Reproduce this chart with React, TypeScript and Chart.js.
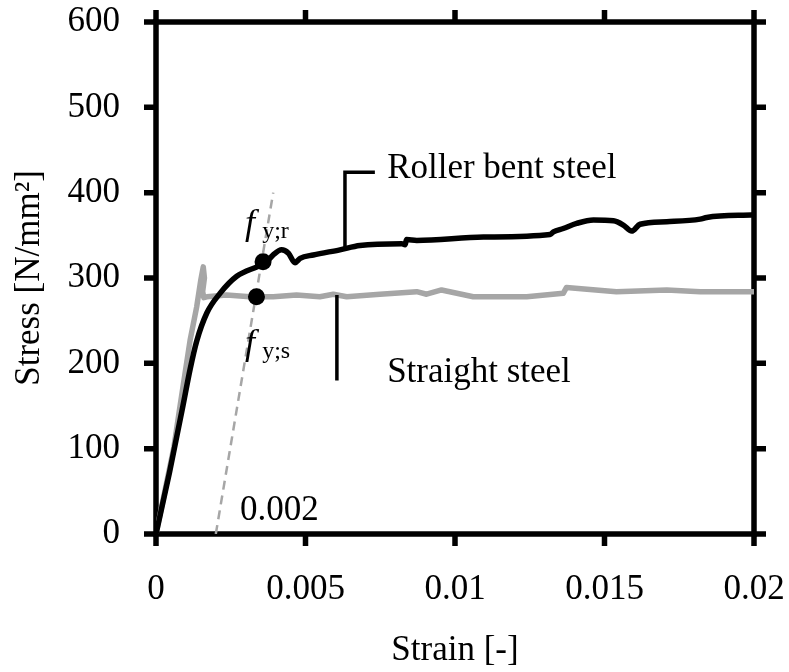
import React, { useEffect, useRef } from "react";
import { Chart, registerables } from "chart.js";

Chart.register(...registerables);

// ---- data ----
const rollerStrain = [0, 0.00045, 0.0009, 0.00114, 0.00136, 0.0017, 0.00214, 0.0027, 0.00337, 0.00365, 0.00392, 0.0042, 0.00443, 0.00465, 0.00482, 0.00526, 0.00615, 0.00682, 0.00822, 0.00833, 0.00838, 0.00872, 0.01095, 0.01318, 0.01329, 0.01362, 0.01407, 0.01463, 0.0153, 0.01563, 0.01591, 0.01619, 0.01708, 0.0182, 0.01842, 0.02];
const rollerStress = [0, 72, 150, 193, 226, 259, 282, 302, 313, 317, 327, 333, 329, 318, 323, 327, 333, 338, 340, 339, 345, 344, 348, 351, 354, 358, 364, 368, 367, 362, 355, 363, 366, 369, 371, 374];

const straightStrain = [0, 0.0006, 0.0008, 0.00114, 0.00136, 0.0015, 0.00158, 0.00162, 0.00156, 0.0016, 0.0017, 0.00236, 0.00314, 0.00392, 0.0047, 0.00548, 0.00593, 0.00638, 0.00749, 0.00872, 0.00905, 0.00955, 0.01061, 0.0124, 0.01362, 0.01373, 0.0154, 0.01708, 0.0182, 0.02];
const straightStress = [0, 102, 149, 227, 266, 298, 313, 300, 284, 277, 278, 280, 278, 278, 280, 278, 281, 278, 281, 284, 281, 286, 278, 278, 282, 289, 284, 286, 284, 284];

// 0.2% offset line
const offsetStrain = [0.002, 0.00392];
const offsetStress = [0, 400];

// yield points
const yieldStrain = [0.00358, 0.00336];
const yieldStress = [319, 278];

// leader lines of the labels
const rollerLeaderStrain = [0.00732, 0.00632, 0.00632];
const rollerLeaderStress = [424, 424, 336];
const straightLeaderStrain = [0.00605, 0.00605];
const straightLeaderStress = [280, 180];

const xTickValues = [0, 0.005, 0.01, 0.015, 0.02];
const xTickLabels = ["0", "0.005", "0.01", "0.015", "0.02"];
const yTickValues = [0, 100, 200, 300, 400, 500, 600];
const yTickLabels = ["0", "100", "200", "300", "400", "500", "600"];

// text annotations (anchor in data units)
const textLabels = [
  { text: "Roller bent steel", x: 0.00773, y: 428, size: 35, italic: false, baseline: "middle" },
  { text: "Straight steel", x: 0.00773, y: 189, size: 35, italic: false, baseline: "middle" },
  { text: "0.002", x: 0.00281, y: 27, size: 35, italic: false, baseline: "middle" },
  { text: "f", x: 0.00298, y: 352, size: 36, italic: true, baseline: "alphabetic" },
  { text: "y;r", x: 0.00355, y: 347, size: 24, italic: false, baseline: "alphabetic" },
  { text: "f", x: 0.00298, y: 211, size: 36, italic: true, baseline: "alphabetic" },
  { text: "y;s", x: 0.00355, y: 206, size: 24, italic: false, baseline: "alphabetic" },
];

const FAMILY = "'Liberation Serif', 'Times New Roman', serif";
const BLACK = "#000000";
const GREY = "#a6a6a6";

const pts = (xs: number[], ys: number[]) => xs.map((x, i) => ({ x, y: ys[i] }));

const zeroPad = (s: any) => {
  s.paddingLeft = 0;
  s.paddingRight = 0;
  s.paddingTop = 0;
  s.paddingBottom = 0;
};

const framePlugin = {
  id: "frame",
  beforeDatasetsDraw(chart: any) {
    const { ctx, chartArea } = chart;
    const { left, right, top, bottom } = chartArea;
    const xs = chart.scales.x;
    const ys = chart.scales.y;
    const tl = 12;
    ctx.save();
    ctx.strokeStyle = BLACK;
    ctx.lineWidth = 5.5;
    ctx.lineCap = "butt";
    ctx.beginPath();
    for (const v of yTickValues) {
      const p = ys.getPixelForValue(v);
      ctx.moveTo(left - tl, p);
      ctx.lineTo(left, p);
      ctx.moveTo(right, p);
      ctx.lineTo(right + tl, p);
    }
    for (const v of xTickValues) {
      const p = xs.getPixelForValue(v);
      ctx.moveTo(p, bottom);
      ctx.lineTo(p, bottom + tl);
      ctx.moveTo(p, top - tl);
      ctx.lineTo(p, top);
    }
    ctx.stroke();
    ctx.lineJoin = "miter";
    ctx.strokeRect(left, top, right - left, bottom - top);
    ctx.restore();
  },
};

const textPlugin = {
  id: "texts",
  afterDatasetsDraw(chart: any) {
    const { ctx } = chart;
    const xs = chart.scales.x;
    const ys = chart.scales.y;
    ctx.save();
    ctx.fillStyle = BLACK;
    ctx.textAlign = "left";
    for (const t of textLabels) {
      ctx.font = `${t.italic ? "italic " : ""}${t.size}px ${FAMILY}`;
      ctx.textBaseline = t.baseline;
      ctx.fillText(t.text, xs.getPixelForValue(t.x), ys.getPixelForValue(t.y));
    }
    ctx.restore();
  },
};

export default function App() {
  const ref = useRef<HTMLCanvasElement | null>(null);

  useEffect(() => {
    if (!ref.current) return;
    const font = { family: FAMILY, size: 35 };
    const chart = new Chart(ref.current, {
      type: "scatter",
      data: {
        datasets: [
          {
            data: pts(yieldStrain, yieldStress),
            showLine: false,
            pointRadius: 8.5,
            pointBackgroundColor: BLACK,
            pointBorderColor: BLACK,
            pointBorderWidth: 0,
            order: 0,
          },
          {
            data: pts(rollerStrain, rollerStress),
            showLine: true,
            borderColor: BLACK,
            borderWidth: 5.5,
            pointRadius: 0,
            cubicInterpolationMode: "monotone",
            order: 1,
          },
          {
            data: pts(rollerLeaderStrain, rollerLeaderStress),
            showLine: true,
            borderColor: BLACK,
            borderWidth: 3.5,
            pointRadius: 0,
            order: 2,
          },
          {
            data: pts(straightLeaderStrain, straightLeaderStress),
            showLine: true,
            borderColor: BLACK,
            borderWidth: 3.5,
            pointRadius: 0,
            order: 2,
          },
          {
            data: pts(straightStrain, straightStress),
            showLine: true,
            borderColor: GREY,
            borderWidth: 5.5,
            pointRadius: 0,
            borderJoinStyle: "round",
            order: 3,
          },
          {
            data: pts(offsetStrain, offsetStress),
            showLine: true,
            borderColor: GREY,
            borderWidth: 2.5,
            borderDash: [9, 6],
            pointRadius: 0,
            order: 4,
          },
        ],
      },
      options: {
        animation: false,
        responsive: false,
        devicePixelRatio: 1,
        layout: { padding: { left: 0, right: 35, top: 22, bottom: 0 } },
        plugins: { legend: { display: false }, tooltip: { enabled: false } },
        scales: {
          x: {
            type: "linear",
            min: 0,
            max: 0.02,
            afterFit: (s: any) => {
              s.height = 138;
              zeroPad(s);
            },
            afterBuildTicks: (s: any) => {
              s.ticks = xTickValues.map((v) => ({ value: v }));
            },
            grid: { display: false, drawTicks: false },
            border: { display: false },
            ticks: {
              autoSkip: false,
              maxRotation: 0,
              padding: 35,
              color: BLACK,
              font,
              callback: (_v: any, i: number) => xTickLabels[i],
            },
            title: {
              display: true,
              text: "Strain [-]",
              color: BLACK,
              font,
              padding: { top: 0, bottom: 0 },
            },
          },
          y: {
            type: "linear",
            min: 0,
            max: 600,
            afterFit: (s: any) => {
              s.width = 156;
              zeroPad(s);
            },
            afterBuildTicks: (s: any) => {
              s.ticks = yTickValues.map((v) => ({ value: v }));
            },
            grid: { display: false, drawTicks: false },
            border: { display: false },
            ticks: {
              autoSkip: false,
              padding: 36,
              color: BLACK,
              font,
              callback: (_v: any, i: number) => yTickLabels[i],
            },
            title: {
              display: true,
              text: "Stress [N/mm²]",
              color: BLACK,
              font,
              padding: { top: 9, bottom: 0 },
            },
          },
        },
      },
      plugins: [framePlugin, textPlugin],
    } as any);
    return () => chart.destroy();
  }, []);

  return (
    <div style={{ position: "fixed", left: 0, top: 0, width: 789, height: 672, background: "#fff" }}>
      <canvas ref={ref} width={789} height={672} style={{ display: "block" }} />
    </div>
  );
}
